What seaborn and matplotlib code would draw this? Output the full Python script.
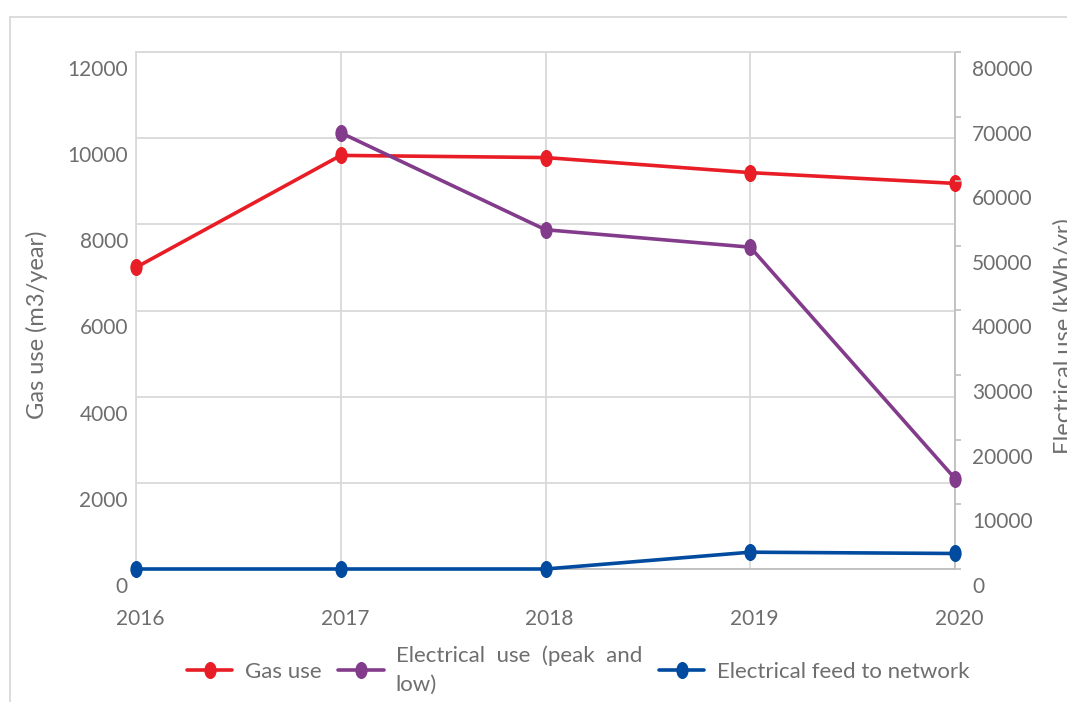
import numpy as np
import matplotlib
matplotlib.use("Agg")
import matplotlib.pyplot as plt
import matplotlib.transforms as mtransforms
from matplotlib.path import Path
from matplotlib.lines import Line2D
import seaborn as sns

# ---- data -------------------------------------------------------------
years = [2016, 2017, 2018, 2019, 2020]
gas_use = [7000, 9600, 9550, 9200, 8950]                 # m3/year (left axis)
electrical_use = [np.nan, 67500, 52500, 49800, 14000]    # kWh/yr (right axis)
feed_to_network = [0, 0, 0, 2600, 2400]                  # kWh/yr (right axis)

gas_ticks = list(range(0, 12001, 2000))
elec_ticks = list(range(0, 80001, 10000))

series_labels = ["Gas use",
                 "Electrical  use  (peak  and\nlow)",
                 "Electrical feed to network"]
left_label = "Gas use (m3/year)"
right_label = "Electrical use (kWh/yr)"

# ---- style ------------------------------------------------------------
RED = "#E81D25"
PURPLE = "#833C8B"
BLUE = "#004B9F"
TEXT = "#6E6E6E"
GRID = "#D9D9D9"
AXIS = "#BFBFBF"
FS = 15
LEG_FS = 16

sns.set_theme(style="white")
plt.rcParams["font.family"] = ["Lato", "DejaVu Sans"]

W, H = 1067, 702
fig = plt.figure(figsize=(W / 100, H / 100), dpi=100)
ax = fig.add_axes([136 / W, 1 - 569 / H, 819 / W, 517 / H])
ax2 = ax.twinx()

# slightly tall oval markers
oval = Path.unit_circle().transformed(mtransforms.Affine2D().scale(0.72, 1.0))
line_kw = dict(marker=oval, markersize=12.3, markeredgewidth=0,
               linewidth=2.6, clip_on=False, zorder=3)

sns.lineplot(x=years, y=gas_use, ax=ax, color=RED,
             label=series_labels[0], **line_kw)
sns.lineplot(x=years, y=electrical_use, ax=ax2, color=PURPLE,
             label=series_labels[1], **line_kw)
sns.lineplot(x=years, y=feed_to_network, ax=ax2, color=BLUE,
             label=series_labels[2], **line_kw)

# ---- axes -------------------------------------------------------------
ax.set_xlim(2016, 2020)
ax.set_xticks(years)
ax.set_xticklabels([str(y) for y in years])
ax.set_ylim(0, 12000)
ax.set_yticks(gas_ticks)
ax.set_yticklabels([str(v) for v in gas_ticks])
ax2.set_ylim(0, 80000)
ax2.set_yticks(elec_ticks)
ax2.set_yticklabels([str(v) for v in elec_ticks])
ax.set_xlabel("")
ax.set_ylabel("")
ax2.set_ylabel("")

ax.grid(True, color=GRID, linewidth=1.3)
ax2.grid(False)

for name, sp in ax.spines.items():
    sp.set_visible(True)
    sp.set_linewidth(1.3)
    sp.set_color(AXIS if name in ("right", "bottom") else GRID)
for sp in ax2.spines.values():
    sp.set_visible(False)

ax.tick_params(axis="y", left=False, length=0, pad=5.8,
               labelsize=FS, labelcolor=TEXT)
ax.tick_params(axis="x", bottom=False, length=0, pad=29,
               labelsize=FS, labelcolor=TEXT)
ax2.tick_params(axis="y", right=True, direction="out", length=4.3, width=1.2,
                color=AXIS, pad=8, labelsize=FS, labelcolor=TEXT)

# value labels sit a little below their gridlines
dy = mtransforms.ScaledTranslation(0, -16 / 100, fig.dpi_scale_trans)
for lab in ax.get_yticklabels() + ax2.get_yticklabels():
    lab.set_transform(lab.get_transform() + dy)
dx = mtransforms.ScaledTranslation(4 / 100, 0, fig.dpi_scale_trans)
for lab in ax.get_xticklabels():
    lab.set_transform(lab.get_transform() + dx)

fig.text(37 / W, 1 - 325 / H, left_label, rotation=90, ha="center",
         va="center", fontsize=17, color=TEXT)
fig.text(1053 / W, 1 - 336 / H, right_label, rotation=90, ha="left",
         va="center", fontsize=17, color=TEXT)

# ---- legend -----------------------------------------------------------
h1, l1 = ax.get_legend_handles_labels()
h2, l2 = ax2.get_legend_handles_labels()
for a in (ax, ax2):
    if a.get_legend() is not None:
        a.get_legend().remove()
leg = fig.legend(h1 + h2, l1 + l2, loc="center",
                 bbox_to_anchor=(578 / W, 1 - 670 / H),
                 ncol=3, frameon=False, fontsize=LEG_FS, handlelength=2.05,
                 handletextpad=0.55, columnspacing=0.75, labelcolor=TEXT)
for t in leg.get_texts():
    t.set_linespacing(1.55)

# outer chart frame
fig.add_artist(Line2D([10 / W, 10 / W], [0, 1 - 17 / H], transform=fig.transFigure,
                      color=GRID, linewidth=1.3))
fig.add_artist(Line2D([10 / W, 1], [1 - 17 / H, 1 - 17 / H], transform=fig.transFigure,
                      color=GRID, linewidth=1.3))

fig.savefig("out.png", dpi=100)
